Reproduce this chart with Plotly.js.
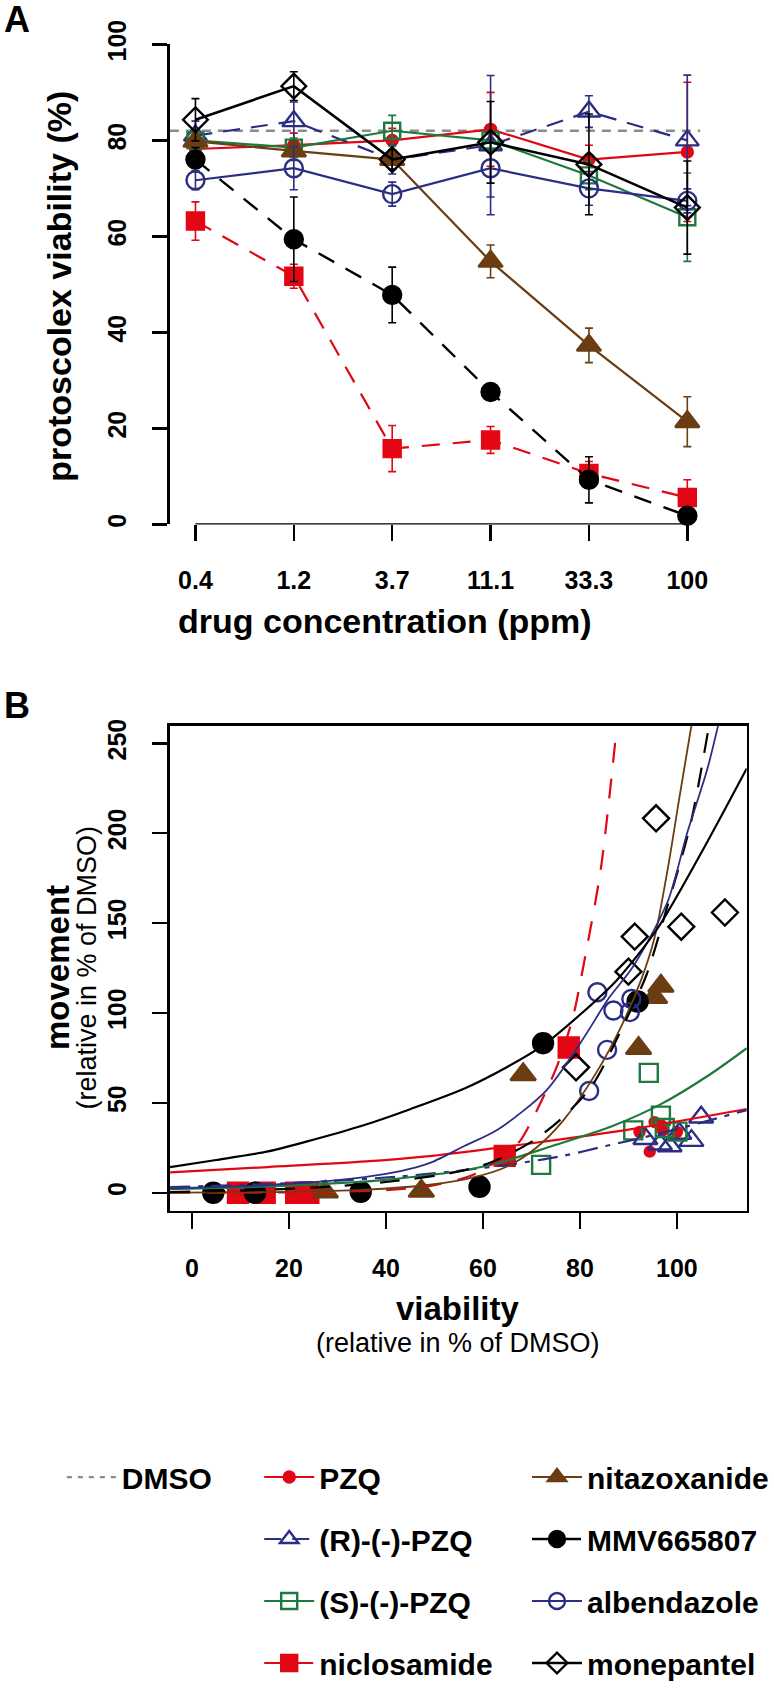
<!DOCTYPE html>
<html><head><meta charset="utf-8">
<script src="https://cdn.plot.ly/plotly-3.0.1.min.js"></script>
<style>html,body{margin:0;padding:0;background:#fff}#chart{width:774px;height:1689px}</style>
</head><body><div id="chart"></div>
<script>
// ---------- Panel A data: protoscolex viability (%) vs drug concentration ----------
const concentrations = ["0.4", "1.2", "3.7", "11.1", "33.3", "100"];
const dmsoViability = 82;

const pzqA = [78.2, 79, 80, 82.3, 76, 77.6];
const pzqErr = [1.5, 2.5, 2.5, 7.7, 3, 14.5];
const rpzqA = [81, 84, 76, 79, 86, 80];
const rpzqErr = [3, 4, 3, 14.5, 3.3, 13.6];
const spzqA = [80, 78.5, 82, 80, 72.7, 64];
const spzqErr = [2, 2, 3.2, 2, 3, 9.2];
const niclosamideA = [63.2, 51.7, 15.8, 17.6, 10.6, 5.6];
const niclosamideErr = [4, 2.5, 4.8, 2.8, 2.5, 3.7];
const nitazoxanideA = [79.8, 77.8, 76, 54.8, 37.3, 21.4];
const nitazoxanideErr = [1.5, 2, 2, 3.4, 3.6, 5.2];
const mmvA = [76, 59.4, 47.8, 27.6, 9.3, 1.8];
const mmvErr = [2.5, 8.8, 5.8, 1, 4.8, 1];
const albendazoleA = [71.7, 74.2, 68.8, 74.2, 70, 67.4];
const albendazoleErr = [2, 4.5, 2.5, 6, 3.5, 2.5];
const monepantelA = [84.3, 91.3, 76, 79.6, 75, 66];
const monepantelErr = [4.4, 3, 2, 8.5, 10.5, 9.7];

// ---------- Panel B data: movement vs viability (relative in % of DMSO) ----------
const pzqBx = [92.3, 94.4, 95.4, 96.8, 97.1, 100];
const pzqBy = [33.8, 22.9, 39.3, 37.5, 34.7, 33.8];
const rpzqBx = [93.5, 96.5, 98.5, 100.5, 103, 105];
const rpzqBy = [30, 27, 26, 33, 29, 42];
const spzqBx = [72, 91, 94.2, 96.7, 97.5, 100.1];
const spzqBy = [15.5, 34.7, 66.7, 42.9, 36, 34];
const niclosamideBx = [9.5, 15, 21.5, 24, 64.5, 77.7];
const niclosamideBy = [0, 0, 0, 0, 20.5, 80.8];
const nitazoxanideBx = [27.5, 47.3, 68.3, 92.1, 95.4, 96.7];
const nitazoxanideBy = [0.5, 1, 65.8, 80.4, 108.7, 115];
const mmvBx = [4.4, 13, 34.8, 59.3, 72.4, 91.9];
const mmvBy = [0, 0, 0.5, 3.3, 83.2, 106.4];
const albendazoleBx = [81.9, 83.6, 85.6, 86.9, 90.3, 90.6];
const albendazoleBy = [56.6, 111.5, 79.5, 101.4, 100.5, 107.8];
const monepantelBx = [79.2, 90, 91.3, 95.7, 100.9, 109.9];
const monepantelBy = [69.8, 123, 142.5, 208.3, 148, 155.9];

// fitted curves
const pzqFitX = [-4.5, 15.7, 35.9, 49.5, 69.7, 90, 114.4];
const pzqFitY = [11.3, 14.3, 17.4, 20.5, 27.4, 35.1, 46.6];
const rpzqFitX = [-4.5, 10, 25, 42.7, 53.5, 65, 76.5, 85.3, 95, 105, 114.4];
const rpzqFitY = [3.2, 4.3, 6, 9, 11.8, 15.5, 20.5, 26, 32, 39, 46];
const spzqFitX = [-4.5, 10, 20, 30, 40, 49.5, 56.2, 63, 73.8, 86.6, 96.7, 106.8, 114.4];
const spzqFitY = [2, 3, 4, 5.3, 7.2, 10, 12.5, 16.4, 25.6, 37, 49.3, 65.8, 80.4];
const niclosamideFitX = [-4.5, 20, 40, 50, 58, 64.5, 67.7, 72.4, 75.5, 78.5, 81.2, 84.3, 87.4];
const niclosamideFitY = [0, 0.2, 1.4, 4.2, 10, 21, 29, 53, 72, 97, 133, 180, 254];
const nitazoxanideFitX = [-4.5, 20, 35, 49.5, 58, 65, 71, 76.5, 83.2, 88.6, 92.7, 95.4, 98.1, 100.4, 103];
const nitazoxanideFitY = [0.1, 0.5, 1.6, 4.6, 8.5, 14.6, 25, 40, 66, 93, 119, 142, 180, 218, 260];
const mmvFitX = [-4.5, 10, 20, 30, 40, 53.5, 61.6, 70.4, 76.5, 82.6, 89.3, 93.7, 98.1, 102.8, 106.5];
const mmvFitY = [0.4, 1.2, 2.2, 3.7, 6, 11, 16.8, 29, 42, 60, 95, 121, 160, 205, 258];
const albendazoleFitX = [-4.5, 10, 20, 30, 40, 46.4, 49.5, 56.2, 63, 73.1, 80.5, 85.9, 91, 98.1, 102.1, 106.2, 108.5];
const albendazoleFitY = [2.5, 3.5, 5, 7, 10.5, 14.3, 17, 26, 35, 57, 85, 108, 126, 162, 200, 235, 260];
const monepantelFitX = [-4.5, 5, 15.7, 25, 35.9, 45, 56.2, 65, 72.4, 80, 87.5, 96, 104.8, 114.4];
const monepantelFitY = [14.3, 18.2, 23, 29.5, 38, 46.5, 58, 70, 82, 99, 118, 147, 188, 236];

// ---------- styles ----------
const FONT = '"Liberation Sans", Arial, Helvetica, sans-serif';
const RED = '#e30613', NAVY = '#2b2e83', GREEN = '#1d7a3e', BROWN = '#6a3d12', BLACK = '#000000', GREY = '#8c8c8c';
const W = 774, H = 1689;
const px = v => v / W, py = v => 1 - v / H;

const series = [
  {name: 'PZQ', a: pzqA, e: pzqErr, bx: pzqBx, by: pzqBy, fx: pzqFitX, fy: pzqFitY,
   color: RED, symbol: 'circle', sizeA: 11, sizeB: 10, dashA: 'solid', dashB: 'solid', lw: 2.2, legend: 'legend2'},
  {name: '(R)-(-)-PZQ', a: rpzqA, e: rpzqErr, bx: rpzqBx, by: rpzqBy, fx: rpzqFitX, fy: rpzqFitY,
   color: NAVY, symbol: 'triangle-up-open', sizeA: 20, sizeB: 21, dashA: '17px,11px', dashB: '20px,8px,5px,8px', lw: 2.2, legend: 'legend2'},
  {name: '(S)-(-)-PZQ', a: spzqA, e: spzqErr, bx: spzqBx, by: spzqBy, fx: spzqFitX, fy: spzqFitY,
   color: GREEN, symbol: 'square-open', sizeA: 16, sizeB: 18, dashA: 'solid', dashB: 'solid', lw: 2.2, legend: 'legend2'},
  {name: 'niclosamide', a: niclosamideA, e: niclosamideErr, bx: niclosamideBx, by: niclosamideBy, fx: niclosamideFitX, fy: niclosamideFitY,
   color: RED, symbol: 'square', sizeA: 17, sizeB: 20, dashA: '18px,13px', dashB: '20px,16px', lw: 2.2, legend: 'legend2'},
  {name: 'nitazoxanide', a: nitazoxanideA, e: nitazoxanideErr, bx: nitazoxanideBx, by: nitazoxanideBy, fx: nitazoxanideFitX, fy: nitazoxanideFitY,
   color: BROWN, symbol: 'triangle-up', sizeA: 21, sizeB: 22, dashA: 'solid', dashB: 'solid', lw: 2.2, legend: 'legend3'},
  {name: 'MMV665807', a: mmvA, e: mmvErr, bx: mmvBx, by: mmvBy, fx: mmvFitX, fy: mmvFitY,
   color: BLACK, symbol: 'circle', sizeA: 18, sizeB: 20, dashA: '18px,13px', dashB: '20px,15px', lw: 2.4, legend: 'legend3'},
  {name: 'albendazole', a: albendazoleA, e: albendazoleErr, bx: albendazoleBx, by: albendazoleBy, fx: albendazoleFitX, fy: albendazoleFitY,
   color: NAVY, symbol: 'circle-open', sizeA: 18, sizeB: 18, dashA: 'solid', dashB: 'solid', lw: 2.2, legend: 'legend3'},
  {name: 'monepantel', a: monepantelA, e: monepantelErr, bx: monepantelBx, by: monepantelBy, fx: monepantelFitX, fy: monepantelFitY,
   color: BLACK, symbol: 'diamond-open', sizeA: 19, sizeB: 20, dashA: 'solid', dashB: 'solid', lw: 2.6, legend: 'legend3'}
];

const traces = [];
// DMSO legend entry (the reference line itself is a shape spanning the panel at dmsoViability)
traces.push({type: 'scatter', mode: 'lines', x: [null], y: [null], name: 'DMSO', legend: 'legend', legendgroup: 'DMSO',
  line: {color: GREY, width: 2.2, dash: '5px,6px'}, xaxis: 'x', yaxis: 'y', hoverinfo: 'skip'});

series.forEach(s => {
  traces.push({
    type: 'scatter', mode: 'lines+markers', x: concentrations, y: s.a, name: s.name,
    legend: s.legend, legendgroup: s.name, xaxis: 'x', yaxis: 'y', cliponaxis: false,
    line: {color: s.color, width: s.lw, dash: s.dashA},
    marker: {symbol: s.symbol, size: s.sizeA, color: s.color, line: {color: s.color, width: 2.4}},
    error_y: {type: 'data', array: s.e, visible: true, color: s.color, thickness: 1.6, width: 4}
  });
});
series.forEach(s => {
  traces.push({
    type: 'scatter', mode: 'markers', x: s.bx, y: s.by, name: s.name, showlegend: false,
    xaxis: 'x2', yaxis: 'y2', cliponaxis: false,
    marker: {symbol: s.symbol, size: s.sizeB, color: s.color, line: {color: s.color, width: 2.4}}
  });
});
series.forEach(s => {
  traces.push({
    type: 'scatter', mode: 'lines', x: s.fx, y: s.fy, name: s.name + ' fit', showlegend: false,
    xaxis: 'x2', yaxis: 'y2',
    line: {color: s.color, width: (s.color === BROWN || s.symbol === 'circle-open') ? 1.8 : 2.2, dash: s.dashB, shape: 'spline', smoothing: 0.8}
  });
});

const tickFont = {family: FONT, size: 25, color: '#000', weight: 'bold'};
const axCommon = {showgrid: false, zeroline: false, ticks: 'outside', tickwidth: 2.5, tickcolor: '#000',
  tickfont: tickFont, fixedrange: true, linecolor: '#000', linewidth: 2.5};

const legendCommon = {xanchor: 'left', yanchor: 'top', orientation: 'v', bgcolor: 'rgba(0,0,0,0)', borderwidth: 0,
  font: {family: FONT, size: 30, color: '#000', weight: 'bold'}, itemwidth: 50, tracegroupgap: 20,
  traceorder: 'grouped', itemclick: false, itemdoubleclick: false};

const layout = {
  width: W, height: H, margin: {l: 0, r: 0, t: 0, b: 0},
  paper_bgcolor: '#fff', plot_bgcolor: 'rgba(0,0,0,0)', showlegend: true,
  font: {family: FONT, color: '#000'},
  xaxis: Object.assign({}, axCommon, {domain: [px(173), px(713)], anchor: 'y', type: 'category',
    categoryarray: concentrations, range: [-0.26, 5.13], showline: false, ticklen: 16, ticklabelstandoff: 18}),
  yaxis: Object.assign({}, axCommon, {domain: [py(532), py(45)], anchor: 'x', range: [0, 100],
    tickvals: [0, 20, 40, 60, 80, 100], showline: true, ticklen: 15, tickangle: -90, ticklabelstandoff: 16}),
  xaxis2: Object.assign({}, axCommon, {domain: [px(173), px(760.5)], anchor: 'y2', range: [-4.55, 114.4],
    tickvals: [0, 20, 40, 60, 80, 100], showline: true, mirror: true, ticklen: 16, ticklabelstandoff: 18}),
  yaxis2: Object.assign({}, axCommon, {domain: [py(1228), py(736)], anchor: 'x2', range: [-9.9, 259.9],
    tickvals: [0, 50, 100, 150, 200, 250], showline: true, mirror: true, ticklen: 15, tickangle: -90, ticklabelstandoff: 16}),
  legend: Object.assign({}, legendCommon, {x: px(63), y: py(1472)}),
  legend2: Object.assign({}, legendCommon, {x: px(264), y: py(1472)}),
  legend3: Object.assign({}, legendCommon, {x: px(537), y: py(1472)}),
  shapes: [
    {type: 'line', xref: 'x domain', yref: 'y', x0: 0, x1: 1, y0: dmsoViability, y1: dmsoViability,
     line: {color: GREY, width: 2.5, dash: '9px,7px'}, layer: 'below'},
    {type: 'line', xref: 'x', yref: 'y', x0: 0, x1: concentrations.length - 1, y0: 0, y1: 0,
     line: {color: '#000', width: 2.5}, layer: 'above'}
  ],
  annotations: [
    {text: '<b>A</b>', xref: 'paper', yref: 'paper', x: px(17), y: py(20), showarrow: false, xanchor: 'center', yanchor: 'middle', font: {family: FONT, size: 36}},
    {text: '<b>B</b>', xref: 'paper', yref: 'paper', x: px(17), y: py(716), showarrow: false, xanchor: 'center', yanchor: 'middle', font: {family: FONT, size: 36}},
    {text: '<b>protoscolex viability (%)</b>', xref: 'paper', yref: 'paper', x: px(60), y: py(290), textangle: -90, showarrow: false, xanchor: 'center', yanchor: 'middle', font: {family: FONT, size: 34}},
    {text: '<b>drug concentration (ppm)</b>', xref: 'paper', yref: 'paper', x: px(392), y: py(630), showarrow: false, xanchor: 'center', yanchor: 'middle', font: {family: FONT, size: 34}},
    {text: '<b>movement</b>', xref: 'paper', yref: 'paper', x: px(58), y: py(981), textangle: -90, showarrow: false, xanchor: 'center', yanchor: 'middle', font: {family: FONT, size: 33}},
    {text: '(relative in % of DMSO)', xref: 'paper', yref: 'paper', x: px(89), y: py(981), textangle: -90, showarrow: false, xanchor: 'center', yanchor: 'middle', font: {family: FONT, size: 27}},
    {text: '<b>viability</b>', xref: 'paper', yref: 'paper', x: px(466), y: py(1327), showarrow: false, xanchor: 'center', yanchor: 'middle', font: {family: FONT, size: 33}},
    {text: '(relative in % of DMSO)', xref: 'paper', yref: 'paper', x: px(466), y: py(1362), showarrow: false, xanchor: 'center', yanchor: 'middle', font: {family: FONT, size: 27}}
  ]
};

Plotly.newPlot('chart', traces, layout, {displayModeBar: false, staticPlot: true});
</script></body></html>
